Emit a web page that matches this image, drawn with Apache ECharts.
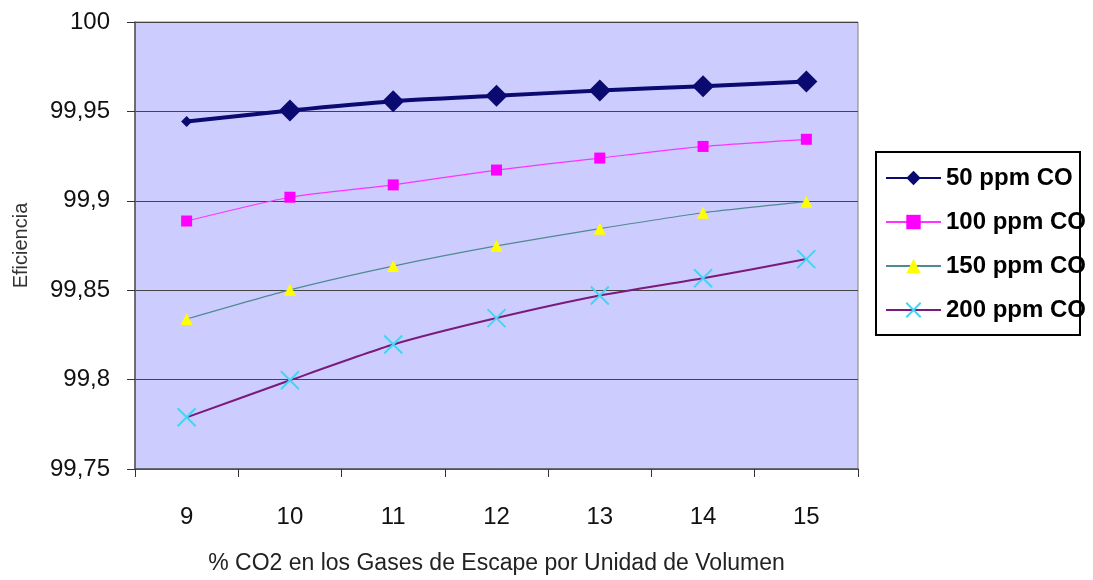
<!DOCTYPE html>
<html>
<head>
<meta charset="utf-8">
<script src="https://cdn.jsdelivr.net/npm/echarts@6/dist/echarts.min.js"></script>
<style>
  html, body { margin: 0; padding: 0; background: #fff; }
  #chart { width: 1093px; height: 580px; }
</style>
</head>
<body>
<div id="chart"></div>
<script>
// data
var co2 = ['9', '10', '11', '12', '13', '14', '15'];
var seriesNames = ['50 ppm CO', '100 ppm CO', '150 ppm CO', '200 ppm CO'];
var co50 = [99.9443, 99.9505, 99.9557, 99.9587, 99.9617, 99.9641, 99.9667];
var co100 = [99.8887, 99.9020, 99.9089, 99.9172, 99.9239, 99.9304, 99.9344];
var co150 = [99.8339, 99.8502, 99.8635, 99.8748, 99.8844, 99.8933, 99.8995];
var co200 = [99.7789, 99.7996, 99.8196, 99.8344, 99.8470, 99.8567, 99.8674];

var font = '"Liberation Sans", Arial, sans-serif';
var crossPath = 'path://M0,0L10,10M10,0L0,10';

var chart = echarts.init(document.getElementById('chart'));

var option = {
  backgroundColor: '#ffffff',
  animation: false,
  grid: {
    left: 135, right: 235, top: 22, bottom: 108,
    show: true,
    backgroundColor: '#ccccff',
    borderColor: '#808080',
    borderWidth: 1
  },
  legend: {
    orient: 'vertical',
    left: 885,
    top: 166,
    padding: 0,
    itemWidth: 55,
    itemHeight: 18,
    itemGap: 20,
    data: seriesNames,
    textStyle: { fontFamily: font, fontSize: 24, fontWeight: 'bold', color: '#000' }
  },
  graphic: [{
    type: 'rect',
    shape: { x: 876, y: 152, width: 204, height: 183 },
    style: { fill: 'none', stroke: '#000', lineWidth: 2 },
    z: 100
  }],
  xAxis: {
    type: 'category',
    data: co2,
    boundaryGap: true,
    name: '% CO2 en los Gases de Escape por Unidad de Volumen',
    nameLocation: 'middle',
    nameGap: 83,
    nameTextStyle: { fontFamily: font, fontSize: 23, color: '#222' },
    axisLine: { lineStyle: { color: '#555', width: 1.5 } },
    axisTick: { show: true, length: 8, lineStyle: { color: '#333' } },
    axisLabel: { fontFamily: font, fontSize: 24, color: '#111', margin: 36 },
    splitLine: { show: false }
  },
  yAxis: {
    type: 'value',
    min: 99.75,
    max: 100,
    interval: 0.05,
    name: 'Eficiencia',
    nameLocation: 'middle',
    nameGap: 104,
    nameRotate: 90,
    nameTextStyle: { fontFamily: font, fontSize: 20, color: '#333' },
    axisLine: { show: true, lineStyle: { color: '#555', width: 1.5 } },
    axisTick: { show: true, length: 8, lineStyle: { color: '#333' } },
    axisLabel: {
      fontFamily: font, fontSize: 24, color: '#111', margin: 25,
      formatter: function (v) {
        return String(Math.round(v * 100) / 100).replace('.', ',');
      }
    },
    splitLine: { show: true, lineStyle: { color: '#444', width: 1.2 } }
  },
  series: [
    {
      name: seriesNames[0],
      type: 'line',
      data: co50,
      smooth: 0.2,
      symbol: 'diamond',
      symbolSize: function (v, p) { return p.dataIndex === 0 ? 11 : 22; },
      lineStyle: { color: '#0a0a70', width: 4 },
      itemStyle: { color: '#0a0a70' },
      z: 5
    },
    {
      name: seriesNames[1],
      type: 'line',
      data: co100,
      smooth: 0.2,
      symbol: 'rect',
      symbolSize: 11,
      lineStyle: { color: '#ff33ff', width: 1.2 },
      itemStyle: { color: '#ff00ff' },
      z: 4
    },
    {
      name: seriesNames[2],
      type: 'line',
      data: co150,
      smooth: 0.2,
      symbol: 'triangle',
      symbolSize: 12,
      lineStyle: { color: '#4f8a90', width: 1.2 },
      itemStyle: { color: '#ffff00' },
      z: 3
    },
    {
      name: seriesNames[3],
      type: 'line',
      data: co200,
      smooth: 0.2,
      symbol: crossPath,
      symbolSize: 18,
      lineStyle: { color: '#7a1a7a', width: 2 },
      itemStyle: { color: 'none', borderColor: '#44d4f4', borderWidth: 2 },
      z: 2
    }
  ]
};

chart.setOption(option);
</script>
</body>
</html>
